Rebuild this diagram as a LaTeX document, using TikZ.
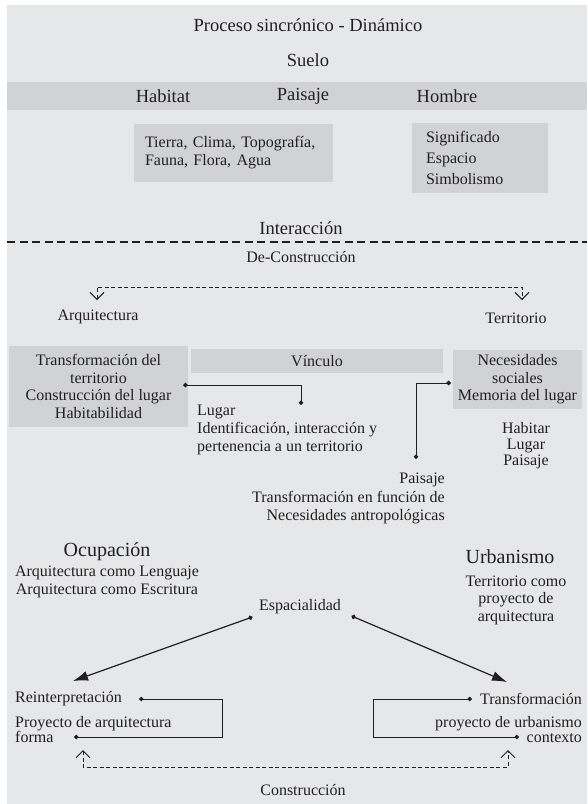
\documentclass[tikz,border=0pt]{standalone}
\usepackage{fontspec}
\setmainfont{Liberation Serif}
\usetikzlibrary{arrows.meta}
\definecolor{fondo}{RGB}{230,231,232}
\definecolor{banda}{RGB}{209,210,212}
\definecolor{tinta}{RGB}{35,31,32}
\tikzset{>=latex}
\tikzset{
	txt/.style={font=\fontsize{16}{17.5}\selectfont, inner sep=0pt, text=tinta},
	lin/.style={font=\fontsize{16}{#1}\selectfont},
	tit/.style={font=\fontsize{18.5}{20}\selectfont, inner sep=0pt, text=tinta},
	tit2/.style={font=\fontsize{20}{22}\selectfont, inner sep=0pt, text=tinta},
	gris/.style={fill=banda, inner ysep=0pt},
	punto/.style={draw=tinta, line width=1pt, arrows={Circle[length=4.5pt]-Circle[length=4.5pt]}},
	flecha/.style={draw=tinta, line width=1.2pt, arrows={Circle[length=4.5pt]-Latex[length=15pt,width=10pt]}},
	trazo/.style={draw=tinta, line width=1pt, dash pattern=on 4pt off 2.5pt,
		arrows={Straight Barb[length=7pt,width=14pt]-Straight Barb[length=7pt,width=14pt]}}
}

\begin{document}
\begin{tikzpicture}[x=1pt,y=-1pt]
	\useasboundingbox (0,0) rectangle (587,804);
	\fill[fondo] (7,5) rectangle (587,804);
	\fill[banda] (7,82) rectangle (587,110);

	% suelo
	\node[tit] (proc) at (308,25) {Proceso sincrónico - Dinámico};
	\node[tit] (suelo) at (308,60) {Suelo};
	\node[tit] (habitat) at (163,96) {Habitat};
	\node[tit] (paisaje) at (303,96) {Paisaje};
	\node[tit] (hombre) at (447,96) {Hombre};

	\node[txt, lin=18, gris, minimum width=199, minimum height=58, text width=177, inner xsep=11, align=left] (tierra) at (233.5,153) {Tierra, Clima, Topografía,\\Fauna, Flora, Agua};
	\node[txt, lin=21, gris, minimum width=136, minimum height=70, text width=108, inner xsep=14, align=left] (signif) at (480,158) {Significado\\Espacio\\Simbolismo};

	\node[tit] (inter) at (301,228) {Interacción};
	\draw[tinta, line width=2.2pt, dash pattern=on 8pt off 4.5pt] (7,242) -- (587,242);

	% de-construccion
	\node[txt] (decons) at (301,257) {De-Construcción};
	\node[txt] (arq) at (98,317) {Arquitectura};
	\node[txt] (terr) at (516,318) {Territorio};
	\coordinate (arqtip) at (97,300);
	\coordinate (terrtip) at (522,300);
	\draw[trazo] (arqtip) -- ++(0,-13) -| (terrtip);

	\node[txt, gris, minimum width=179, minimum height=81, align=center] (transf) at (98.5,386.5) {Transformación del\\territorio\\Construcción del lugar\\Habitabilidad};
	\node[txt, gris, minimum width=252, minimum height=24] (vinculo) at (317,361) {Vínculo};
	\node[txt, gris, minimum width=129, minimum height=59, align=center] (necs) at (517.5,379.5) {Necesidades\\sociales\\Memoria del lugar};

	\node[txt, lin=18, anchor=west, align=left] (lugar) at (197,430) {Lugar\\Identificación, interacción y\\pertenencia a un territorio};
	\node[txt, lin=16, align=center] (habitar) at (526,446) {Habitar\\Lugar\\Paisaje};
	\node[txt, lin=18.5, anchor=east, align=right] (paistr) at (445,498.5) {Paisaje\\Transformación en función de\\Necesidades antropológicas};

	\coordinate (lugarpt) at (301,405);
	\coordinate (paisajept) at (416,459);
	\draw[punto] ([xshift=-5pt,yshift=1.5pt]transf.east) -| (lugarpt);
	\draw[punto] ([xshift=-2pt,yshift=-3.5pt]necs.west) -| (paisajept);

	% ocupacion / urbanismo
	\node[tit2] (ocup) at (107,552) {Ocupación};
	\node[txt, lin=18, align=center] (arqleng) at (107,582) {Arquitectura como Lenguaje\\Arquitectura como Escritura};
	\node[tit2] (urb) at (510,557) {Urbanismo};
	\node[txt, lin=17.5, align=center] (terrproy) at (516,600) {Territorio como\\proyecto de\\arquitectura};

	\node[txt] (esp) at (300,607) {Espacialidad};
	\coordinate (reintip) at (73,681);
	\coordinate (transftip) at (507,682);
	\draw[flecha] ([shift={(-6.5,10)}]esp.west) -- (reintip);
	\draw[flecha] ([shift={(10.5,9)}]esp.east) -- (transftip);

	% construccion
	\node[txt, anchor=west] (rein) at (15,699) {Reinterpretación};
	\node[txt, lin=15, anchor=west, align=left] (proyarq) at (15,729.5) {Proyecto de arquitectura\\forma};
	\node[txt, anchor=east] (transfo) at (582,699) {Transformación};
	\node[txt, lin=15, anchor=east, align=right] (proyurb) at (582,729.5) {proyecto de urbanismo\\contexto};

	\coordinate (formapt) at (74,737);
	\coordinate (contextopt) at (519,737);
	\draw[punto] ([xshift=17pt]rein.east) -- ++(83,0) |- (formapt);
	\draw[punto] ([xshift=-8pt]transfo.west) -- ++(-98,0) |- (contextopt);

	\coordinate (consL) at (83,750);
	\coordinate (consR) at (508,750);
	\draw[trazo] (consL) -- ++(0,17) -| (consR);
	\node[txt] (cons) at (303,790) {Construcción};
\end{tikzpicture}
\end{document}
